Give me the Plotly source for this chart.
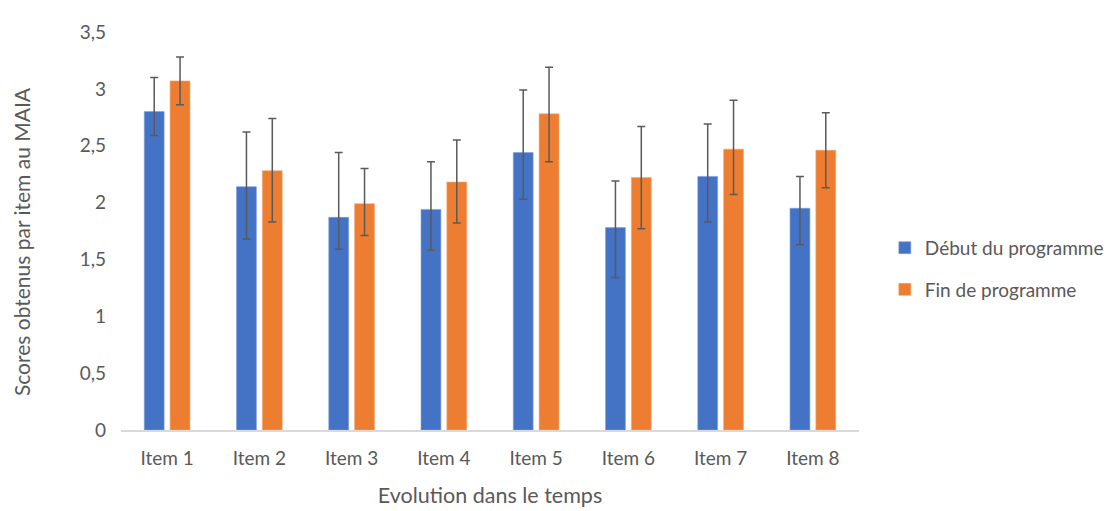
import plotly.graph_objects as go

categories = ["Item 1", "Item 2", "Item 3", "Item 4", "Item 5", "Item 6", "Item 7", "Item 8"]

debut_values = [2.80, 2.14, 1.87, 1.94, 2.44, 1.78, 2.23, 1.95]
debut_err_plus = [0.30, 0.48, 0.57, 0.42, 0.55, 0.41, 0.46, 0.28]
debut_err_minus = [0.21, 0.46, 0.28, 0.36, 0.41, 0.44, 0.40, 0.32]

fin_values = [3.07, 2.28, 1.99, 2.18, 2.78, 2.22, 2.47, 2.46]
fin_err_plus = [0.21, 0.46, 0.31, 0.37, 0.41, 0.45, 0.43, 0.33]
fin_err_minus = [0.21, 0.45, 0.28, 0.36, 0.42, 0.45, 0.40, 0.33]

y_ticks = [0, 0.5, 1, 1.5, 2, 2.5, 3, 3.5]
y_tick_labels = ["0", "0,5", "1", "1,5", "2", "2,5", "3", "3,5"]

FONT = "Lato, 'Open Sans', sans-serif"
GRAY = "#595959"
ERR = "#5a5a5a"

fig = go.Figure()
fig.add_trace(go.Bar(
    x=categories, y=debut_values, name="Début du programme", legendgroup="a",
    marker=dict(color="#4472C4", line=dict(color="#7f9fdc", width=0.6)),
    error_y=dict(type="data", symmetric=False, array=debut_err_plus, arrayminus=debut_err_minus,
                 color=ERR, thickness=1.5, width=4),
))
fig.add_trace(go.Bar(
    x=categories, y=fin_values, name="Fin de programme", legendgroup="b",
    marker=dict(color="#ED7D31", line=dict(color="#f3a572", width=0.6)),
    error_y=dict(type="data", symmetric=False, array=fin_err_plus, arrayminus=fin_err_minus,
                 color=ERR, thickness=1.5, width=4),
))

fig.update_layout(
    width=1113, height=511,
    margin=dict(l=113, r=256, t=15, b=89),
    paper_bgcolor="white", plot_bgcolor="white",
    barmode="group", bargap=0.44, bargroupgap=0.23,
    font=dict(family=FONT, color=GRAY, size=19),
    legend=dict(x=1.035, xref="paper", y=0.405, xanchor="left", yanchor="middle",
                font=dict(size=19, color=GRAY, family=FONT),
                traceorder="grouped", tracegroupgap=14, itemwidth=30,
                bgcolor="rgba(0,0,0,0)"),
    xaxis=dict(
        title=dict(text="Evolution dans le temps", font=dict(size=21.5, color=GRAY), standoff=20),
        showline=True, linecolor="#d9d9d9", linewidth=1.5,
        showgrid=False, ticks="", tickfont=dict(size=19, color=GRAY),
        ticklabelstandoff=10,
    ),
    yaxis=dict(
        range=[0, 3.5], tickvals=y_ticks, ticktext=y_tick_labels,
        showgrid=False, showline=False, zeroline=False, ticks="",
        tickfont=dict(size=19, color=GRAY), ticklabelstandoff=14,
    ),
    annotations=[dict(
        text="Scores obtenus par item au MAIA", textangle=-90,
        xref="paper", yref="paper", x=-0.135, y=0.473,
        xanchor="center", yanchor="middle", showarrow=False,
        font=dict(size=21, color=GRAY, family=FONT),
    )],
)

fig.write_html("out.html")
